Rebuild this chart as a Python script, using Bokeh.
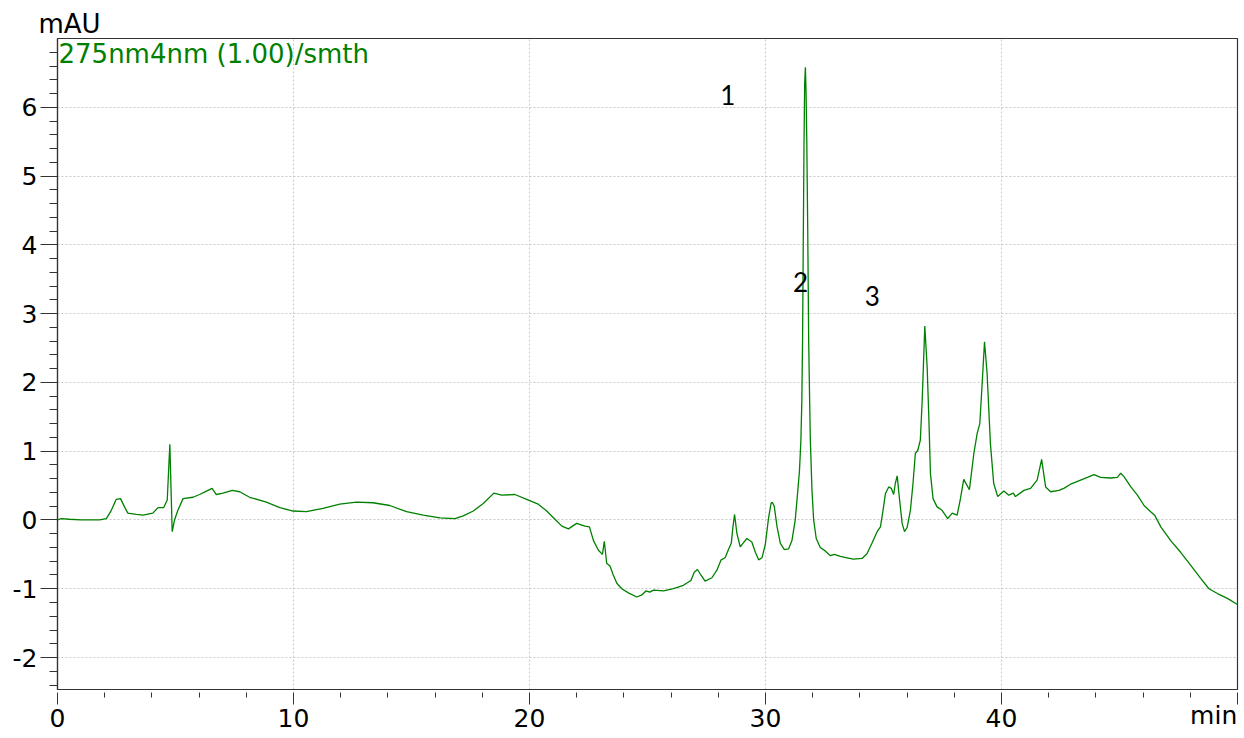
import numpy as np
from bokeh.plotting import figure
from bokeh.models import Range1d, FixedTicker, Label
from bokeh.embed import file_html
from bokeh.resources import INLINE

# ---- data ----
time_min = [
    0.00, 0.16, 0.50, 1.00, 1.78, 2.07, 2.28, 2.49, 2.67, 2.84, 2.98, 3.34, 3.62, 4.04,
    4.26, 4.50, 4.65, 4.76, 4.86, 4.96, 5.10, 5.32, 5.74, 6.02, 6.31, 6.55, 6.73, 7.01,
    7.41, 7.72, 8.14, 8.85, 9.42, 9.98, 10.55, 11.25, 11.96, 12.67, 13.37, 14.08, 14.79,
    15.50, 16.20, 16.84, 17.19, 17.62, 18.04, 18.49, 18.82, 19.38, 19.88, 20.37, 20.73,
    21.08, 21.37, 21.65, 22.00, 22.35, 22.54, 22.71, 22.92, 23.09, 23.17, 23.27, 23.41,
    23.55, 23.70, 23.91, 24.19, 24.55, 24.76, 24.94, 25.10, 25.25, 25.68, 26.10, 26.52,
    26.84, 26.98, 27.12, 27.26, 27.44, 27.73, 27.94, 28.12, 28.29, 28.43, 28.55, 28.62,
    28.69, 28.79, 28.93, 29.07, 29.21, 29.42, 29.57, 29.71, 29.85, 29.99, 30.13, 30.24,
    30.30, 30.37, 30.49, 30.63, 30.80, 30.98, 31.12, 31.26, 31.37, 31.44, 31.50, 31.54,
    31.57, 31.60, 31.63, 31.66, 31.69, 31.72, 31.75, 31.79, 31.83, 31.87, 31.90, 31.97,
    32.04, 32.15, 32.32, 32.53, 32.75, 32.92, 33.17, 33.45, 33.73, 34.09, 34.30, 34.51,
    34.73, 34.87, 34.98, 35.08, 35.22, 35.33, 35.43, 35.50, 35.58, 35.67, 35.79, 35.89,
    36.00, 36.14, 36.25, 36.35, 36.45, 36.56, 36.64, 36.75, 36.85, 36.92, 36.99, 37.10,
    37.27, 37.48, 37.62, 37.72, 37.91, 38.12, 38.26, 38.40, 38.64, 38.83, 38.97, 39.08,
    39.18, 39.28, 39.39, 39.53, 39.67, 39.84, 40.10, 40.31, 40.50, 40.59, 40.95, 41.23,
    41.51, 41.70, 41.87, 42.08, 42.43, 42.64, 42.93, 43.35, 43.64, 43.92, 44.20, 44.62,
    44.91, 45.05, 45.19, 45.48, 45.76, 46.04, 46.32, 46.49, 46.75, 47.17, 47.59, 48.02,
    48.44, 48.79, 49.15, 49.57, 50.00,
]
absorbance_mau = [
    0.00, 0.02, 0.01, 0.00, 0.00, 0.02, 0.14, 0.30, 0.31, 0.19, 0.10, 0.08, 0.07, 0.10,
    0.18, 0.18, 0.29, 1.10, -0.17, 0.00, 0.14, 0.31, 0.33, 0.37, 0.42, 0.46, 0.37, 0.39,
    0.43, 0.41, 0.33, 0.26, 0.18, 0.13, 0.12, 0.17, 0.23, 0.26, 0.25, 0.21, 0.12,
    0.07, 0.03, 0.02, 0.06, 0.13, 0.24, 0.39, 0.36, 0.37, 0.30, 0.23, 0.13,
    0.01, -0.09, -0.13, -0.05, -0.09, -0.10, -0.30, -0.44, -0.50, -0.31, -0.63, -0.67,
    -0.80, -0.92, -1.00, -1.06, -1.12, -1.09, -1.03, -1.05, -1.02, -1.03, -1.00, -0.95,
    -0.88, -0.76, -0.72, -0.80, -0.89, -0.84, -0.73, -0.58, -0.55, -0.43, -0.34, -0.10,
    0.08, -0.20, -0.39, -0.33, -0.27, -0.32, -0.47, -0.58, -0.55, -0.36, 0.03, 0.25,
    0.25, 0.20, -0.10, -0.34, -0.43, -0.42, -0.30, 0.00, 0.43, 0.72, 1.16, 1.74,
    2.60, 4.00, 5.40, 6.35, 6.58, 6.20, 5.50, 4.20, 2.60, 1.74, 1.16, 0.43,
    0.00, -0.27, -0.40, -0.45, -0.52, -0.50, -0.53, -0.55, -0.57, -0.56, -0.49, -0.34,
    -0.17, -0.10, 0.14, 0.38, 0.48, 0.46, 0.37, 0.53, 0.64, 0.33, -0.05, -0.17,
    -0.11, 0.14, 0.53, 0.97, 1.01, 1.16, 1.74, 2.82, 2.22, 1.50, 0.67, 0.31,
    0.19, 0.14, 0.07, 0.02, 0.10, 0.07, 0.31, 0.59, 0.44, 0.97, 1.26, 1.40,
    1.98, 2.59, 2.13, 1.11, 0.53, 0.34, 0.42, 0.36, 0.39, 0.34, 0.43, 0.46,
    0.58, 0.88, 0.48, 0.41, 0.43, 0.46, 0.52, 0.58, 0.62, 0.66, 0.62, 0.61,
    0.62, 0.68, 0.63, 0.48, 0.36, 0.21, 0.12, 0.07, -0.10, -0.30, -0.47, -0.66,
    -0.85, -1.00, -1.07, -1.14, -1.23,
]

peak_names = ["1", "2", "3"]
peak_name_x = [28.40, 31.49, 34.53]
peak_name_y = [6.18, 3.46, 3.25]

x_ticks = [0, 10, 20, 30, 40, 50]
x_tick_labels = ["0", "10", "20", "30", "40", ""]
y_ticks = [-2, -1, 0, 1, 2, 3, 4, 5, 6]
y_tick_labels = ["-2", "-1", "0", "1", "2", "3", "4", "5", "6"]

trace_title = "275nm4nm (1.00)/smth"
y_unit = "mAU"
x_unit = "min"

X_MIN, X_MAX = 0.0, 50.0
Y_MIN, Y_MAX = -2.465, 7.0

GREEN = "#008000"
AXIS = "#333333"
TICK_FONT = "DejaVu Sans"

p = figure(width=1240, height=736, output_backend="svg", toolbar_location=None,
           x_range=Range1d(X_MIN, X_MAX), y_range=Range1d(Y_MIN, Y_MAX),
           min_border_left=57, min_border_right=3, min_border_top=38,
           min_border_bottom=47)
p.outline_line_color = AXIS
p.outline_line_width = 1.2
p.background_fill_color = "white"
p.border_fill_color = "white"

# unit of the y axis, shown above the top-left corner of the frame
p.title.text = y_unit
p.title.align = "left"
p.title.offset = -19
p.title.standoff = 0
p.title.text_font = TICK_FONT
p.title.text_font_size = "26px"
p.title.text_font_style = "normal"
p.title.text_color = "black"

x_minor = [float(t) for t in np.arange(0, 50.01, 2.0) if round(t) % 10 != 0]
y_minor = [round(float(v), 1) for v in np.arange(-2.4, 6.81, 0.2) if abs(v - round(v)) > 0.05]

p.xaxis.ticker = FixedTicker(ticks=x_ticks, minor_ticks=x_minor)
p.yaxis.ticker = FixedTicker(ticks=y_ticks, minor_ticks=y_minor)
p.xaxis.major_label_overrides = {t: s for t, s in zip(x_ticks, x_tick_labels)}
p.yaxis.major_label_overrides = {t: s for t, s in zip(y_ticks, y_tick_labels)}

for ax in (p.xaxis, p.yaxis):
    ax.axis_line_color = AXIS
    ax.axis_line_width = 1.2
    ax.major_tick_line_color = AXIS
    ax.minor_tick_line_color = AXIS
    ax.major_label_text_font = TICK_FONT
    ax.major_label_text_font_size = "25px"
    ax.major_label_text_color = "black"

p.xaxis.major_tick_in = -3
p.xaxis.major_tick_out = 15
p.xaxis.minor_tick_in = -3
p.xaxis.minor_tick_out = 8
p.xaxis.major_label_standoff = 4
# unit of the x axis, on the tick-label row at the right end; the axis label is
# centred on the axis end, so it is padded on the right with no-break spaces
p.xaxis.axis_label = x_unit + "\u00a0" * 6
p.xaxis.axis_label_align = "end"
p.xaxis.axis_label_standoff = -29
p.xaxis.axis_label_text_font = TICK_FONT
p.xaxis.axis_label_text_font_size = "25px"
p.xaxis.axis_label_text_font_style = "normal"
p.xaxis.axis_label_text_color = "black"

p.yaxis.major_tick_in = 0
p.yaxis.major_tick_out = 17
p.yaxis.minor_tick_in = 0
p.yaxis.minor_tick_out = 8
p.yaxis.major_label_standoff = 3

for g in (p.xgrid, p.ygrid):
    g.grid_line_color = "#c8c8c8"
    g.grid_line_dash = "2 2"
    g.grid_line_width = 1

p.line(time_min, absorbance_mau, line_color=GREEN, line_width=1.3)

for name, px, py in zip(peak_names, peak_name_x, peak_name_y):
    p.add_layout(Label(x=px, y=py, text=name, text_align="center", text_baseline="middle",
                       text_font="Lato", text_font_size="26px", text_color="black"))

p.add_layout(Label(x=X_MIN, y=Y_MAX, text=trace_title, x_offset=1, y_offset=0,
                   text_baseline="top", text_align="left", text_font=TICK_FONT,
                   text_font_size="26px", text_color=GREEN))

open("out.html", "w").write(file_html(p, INLINE))
